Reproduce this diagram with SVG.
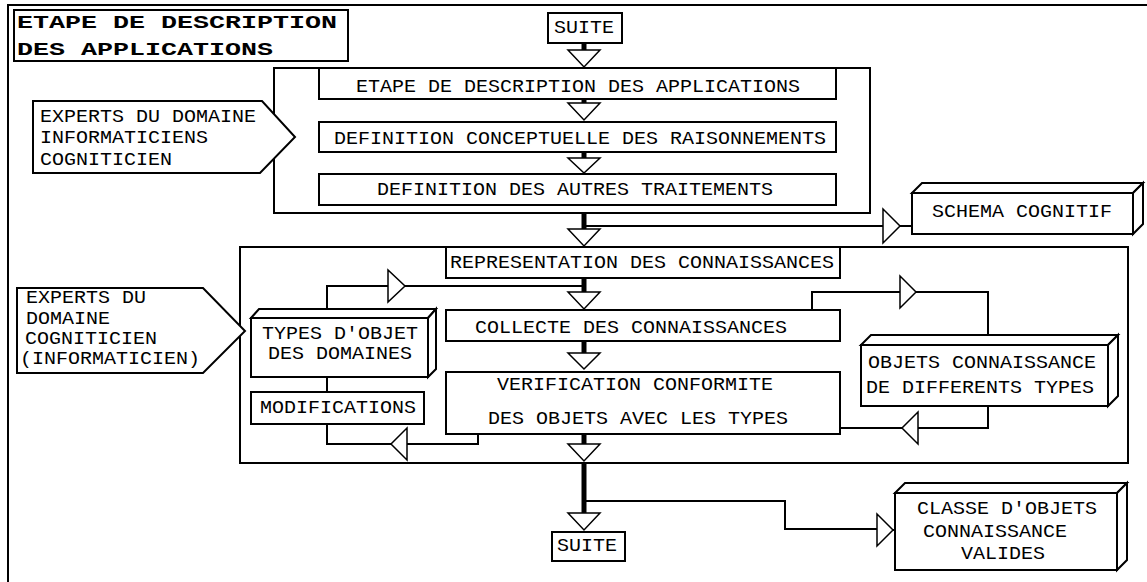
<svg xmlns="http://www.w3.org/2000/svg" width="1147" height="582" viewBox="0 0 1147 582">
<style>
.box{fill:#fff;stroke:#000;stroke-width:2}
.ln{fill:none;stroke:#000;stroke-width:2}
.thick{fill:none;stroke:#000;stroke-width:5}
.tri{fill:#fff;stroke:#000;stroke-width:1.5;stroke-linejoin:miter}
.t{font-family:"Liberation Mono","DejaVu Sans Mono",monospace;font-size:18px;fill:#000}
.tb{font-family:"Liberation Mono","DejaVu Sans Mono",monospace;font-size:19px;font-weight:bold;fill:#000}
</style>
<rect x="0" y="0" width="1147" height="582" fill="#fff"/>
<!-- outer frame -->
<path class="ln" d="M8,582 V5 H1147"/>

<!-- containers -->
<g id="stage1">
  <rect class="box" x="274" y="68" width="596" height="145"/>
</g>
<g id="stage2">
  <rect class="box" x="240" y="247" width="888" height="216"/>
</g>

<!-- connectors -->
<g id="connectors">
  <path class="thick" d="M584,43 V50"/>
  <polygon class="tri" points="568,50 600,50 584,67"/>
  <path class="thick" d="M584,99 V103"/>
  <polygon class="tri" points="568,103 600,103 584,120"/>
  <path class="thick" d="M584,152 V158"/>
  <polygon class="tri" points="568,158 600,158 584,173"/>
  <path class="thick" d="M584,213 V229"/>
  <path class="ln" d="M584,226 H883 M900,226 H912"/>
  <polygon class="tri" points="883,209 883,243 900,226"/>
  <polygon class="tri" points="568,229 600,229 584,246"/>
  <path class="thick" d="M584,278 V292"/>
  <path class="ln" d="M327,309 V286 H388 M405,286 H584"/>
  <polygon class="tri" points="388,270 388,302 405,286"/>
  <polygon class="tri" points="568,292 600,292 584,309"/>
  <path class="ln" d="M812,310 V292 H900 M916,292 H988 V335"/>
  <polygon class="tri" points="900,276 900,308 916,292"/>
  <path class="thick" d="M584,341 V353"/>
  <polygon class="tri" points="568,353 600,353 584,369"/>
  <path class="ln" d="M327,377 V392"/>
  <path class="ln" d="M988,406 V428 H918 M902,428 H840"/>
  <polygon class="tri" points="918,412 918,444 902,428"/>
  <path class="ln" d="M478,434 V444 H407 M391,444 H327 V424"/>
  <polygon class="tri" points="407,428 407,460 391,444"/>
  <path class="thick" d="M584,434 V444"/>
  <polygon class="tri" points="568,444 600,444 584,461"/>
  <path class="thick" d="M584,463 V513"/>
  <path class="ln" d="M584,501 H785 V529 H877 M893,530 H895"/>
  <polygon class="tri" points="877,514 877,546 893,530"/>
  <polygon class="tri" points="568,513 600,513 584,530"/>
</g>

<!-- nodes -->
<g id="title">
  <rect class="box" x="14" y="10" width="334" height="51"/>
  <text class="tb" x="17" y="28" textLength="320" lengthAdjust="spacingAndGlyphs">ETAPE DE DESCRIPTION</text>
  <text class="tb" x="17" y="55" textLength="256" lengthAdjust="spacingAndGlyphs">DES APPLICATIONS</text>
</g>
<g id="suite-top">
  <rect class="box" x="548" y="13" width="74" height="30"/>
  <text class="t" x="554" y="33" textLength="60" lengthAdjust="spacingAndGlyphs">SUITE</text>
</g>
<g id="etape">
  <rect class="box" x="319" y="68" width="517" height="31"/>
  <text class="t" x="356" y="92" textLength="444" lengthAdjust="spacingAndGlyphs">ETAPE DE DESCRIPTION DES APPLICATIONS</text>
</g>
<g id="def-concept">
  <rect class="box" x="319" y="122" width="517" height="30"/>
  <text class="t" x="334" y="144" textLength="492" lengthAdjust="spacingAndGlyphs">DEFINITION CONCEPTUELLE DES RAISONNEMENTS</text>
</g>
<g id="def-autres">
  <rect class="box" x="319" y="174" width="517" height="31"/>
  <text class="t" x="377" y="195" textLength="396" lengthAdjust="spacingAndGlyphs">DEFINITION DES AUTRES TRAITEMENTS</text>
</g>
<g id="experts1">
  <polygon class="box" points="33,101 262,101 295,137 260,173 33,173"/>
  <text class="t" x="40" y="122" textLength="216" lengthAdjust="spacingAndGlyphs">EXPERTS DU DOMAINE</text>
  <text class="t" x="40" y="143" textLength="168" lengthAdjust="spacingAndGlyphs">INFORMATICIENS</text>
  <text class="t" x="40" y="165" textLength="132" lengthAdjust="spacingAndGlyphs">COGNITICIEN</text>
</g>
<g id="schema">
  <polygon class="box" points="912,193 922,183 1143,183 1133,193"/>
  <polygon class="box" points="1133,193 1143,183 1143,224 1133,234"/>
  <rect class="box" x="912" y="193" width="221" height="41"/>
  <text class="t" x="932" y="217" textLength="180" lengthAdjust="spacingAndGlyphs">SCHEMA COGNITIF</text>
</g>
<g id="representation">
  <rect class="box" x="446" y="247" width="394" height="31"/>
  <text class="t" x="450" y="268" textLength="384" lengthAdjust="spacingAndGlyphs">REPRESENTATION DES CONNAISSANCES</text>
</g>
<g id="collecte">
  <rect class="box" x="446" y="310" width="394" height="31"/>
  <text class="t" x="475" y="333" textLength="312" lengthAdjust="spacingAndGlyphs">COLLECTE DES CONNAISSANCES</text>
</g>
<g id="verification">
  <rect class="box" x="446" y="372" width="394" height="62"/>
  <text class="t" x="497" y="390" textLength="276" lengthAdjust="spacingAndGlyphs">VERIFICATION CONFORMITE</text>
  <text class="t" x="488" y="424" textLength="300" lengthAdjust="spacingAndGlyphs">DES OBJETS AVEC LES TYPES</text>
</g>
<g id="experts2">
  <polygon class="box" points="17,288 203,288 245,331 203,373 17,373"/>
  <text class="t" x="26" y="303" textLength="120" lengthAdjust="spacingAndGlyphs">EXPERTS DU</text>
  <text class="t" x="26" y="324" textLength="84" lengthAdjust="spacingAndGlyphs">DOMAINE</text>
  <text class="t" x="25" y="344" textLength="132" lengthAdjust="spacingAndGlyphs">COGNITICIEN</text>
  <text class="t" x="20" y="364" textLength="180" lengthAdjust="spacingAndGlyphs">(INFORMATICIEN)</text>
</g>
<g id="types">
  <polygon class="box" points="251,318 259,309 436,309 428,318"/>
  <polygon class="box" points="428,318 436,309 436,369 428,377"/>
  <rect class="box" x="251" y="318" width="177" height="59"/>
  <text class="t" x="262" y="339" textLength="156" lengthAdjust="spacingAndGlyphs">TYPES D'OBJET</text>
  <text class="t" x="268" y="359" textLength="144" lengthAdjust="spacingAndGlyphs">DES DOMAINES</text>
</g>
<g id="modifications">
  <rect class="box" x="251" y="392" width="173" height="32"/>
  <text class="t" x="260" y="413" textLength="156" lengthAdjust="spacingAndGlyphs">MODIFICATIONS</text>
</g>
<g id="objets">
  <polygon class="box" points="861,345 871,335 1118,335 1108,345"/>
  <polygon class="box" points="1108,345 1118,335 1118,396 1108,406"/>
  <rect class="box" x="861" y="345" width="247" height="61"/>
  <text class="t" x="868" y="368" textLength="228" lengthAdjust="spacingAndGlyphs">OBJETS CONNAISSANCE</text>
  <text class="t" x="866" y="393" textLength="228" lengthAdjust="spacingAndGlyphs">DE DIFFERENTS TYPES</text>
</g>
<g id="suite-bottom">
  <rect class="box" x="552" y="532" width="73" height="29"/>
  <text class="t" x="557" y="551" textLength="60" lengthAdjust="spacingAndGlyphs">SUITE</text>
</g>
<g id="classe">
  <polygon class="box" points="895,493 905,483 1127,483 1117,493"/>
  <polygon class="box" points="1117,493 1127,483 1127,560 1117,570"/>
  <rect class="box" x="895" y="493" width="222" height="77"/>
  <text class="t" x="917" y="514" textLength="180" lengthAdjust="spacingAndGlyphs">CLASSE D'OBJETS</text>
  <text class="t" x="923" y="537" textLength="144" lengthAdjust="spacingAndGlyphs">CONNAISSANCE</text>
  <text class="t" x="961" y="559" textLength="84" lengthAdjust="spacingAndGlyphs">VALIDES</text>
</g>
</svg>
